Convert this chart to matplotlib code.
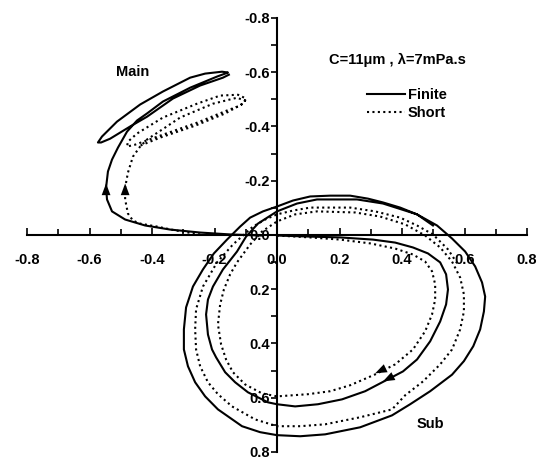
#!/usr/bin/env python

# Journal centre orbits for the main and sub bearings, finite vs short
# bearing theory.

import matplotlib
matplotlib.use('Agg')
import matplotlib.pyplot as plt
from matplotlib.ticker import MultipleLocator, FormatStrFormatter

# main bearing orbit, finite bearing theory
mainFiniteX = [-0.048, -0.150, -0.246, -0.342, -0.422, -0.486, -0.528, -0.544,
               -0.547, -0.541, -0.528, -0.509, -0.480, -0.448, -0.416, -0.365,
               -0.278, -0.192, -0.166, -0.157, -0.176, -0.230, -0.278, -0.365,
               -0.438, -0.512, -0.560, -0.573, -0.563, -0.534, -0.470, -0.416,
               -0.333, -0.246, -0.173, -0.154]
mainFiniteY = [0.002, -0.002, -0.009, -0.020, -0.035, -0.057, -0.087, -0.131,
               -0.175, -0.234, -0.278, -0.322, -0.381, -0.422, -0.448, -0.492,
               -0.543, -0.584, -0.595, -0.599, -0.602, -0.595, -0.580, -0.529,
               -0.481, -0.418, -0.363, -0.341, -0.341, -0.355, -0.400, -0.436,
               -0.503, -0.551, -0.580, -0.591]

# main bearing orbit, short bearing theory
mainShortX = [-0.246, -0.326, -0.384, -0.438, -0.461, -0.477, -0.486, -0.486,
              -0.477, -0.461, -0.438, -0.416, -0.358, -0.310, -0.205, -0.128,
              -0.102, -0.118, -0.160, -0.256, -0.365, -0.454, -0.480, -0.477,
              -0.448, -0.365, -0.256, -0.182, -0.125, -0.099, -0.109, -0.166,
              -0.262, -0.374, -0.445]
mainShortY = [-0.002, -0.017, -0.031, -0.042, -0.053, -0.079, -0.131, -0.175,
              -0.230, -0.289, -0.326, -0.352, -0.396, -0.433, -0.484, -0.506,
              -0.495, -0.477, -0.459, -0.414, -0.370, -0.333, -0.326, -0.344,
              -0.374, -0.433, -0.484, -0.514, -0.517, -0.503, -0.484, -0.448,
              -0.403, -0.359, -0.326]

# sub bearing orbit, finite bearing theory
subFiniteX = [0.000, 0.106, 0.202, 0.307, 0.378, 0.435, 0.483, 0.522, 0.541,
              0.547, 0.541, 0.522, 0.490, 0.448, 0.403, 0.355, 0.282, 0.208,
              0.131, 0.058, 0.000, -0.029, -0.093, -0.134, -0.166, -0.195,
              -0.208, -0.221, -0.227, -0.221, -0.205, -0.173, -0.128, -0.099,
              -0.061, 0.000, 0.064, 0.128, 0.256, 0.339, 0.448, 0.512, 0.560,
              0.602, 0.634, 0.656, 0.666, 0.662, 0.650, 0.628, 0.598, 0.560,
              0.490, 0.426, 0.368, 0.266, 0.154, 0.074, 0.000, -0.054, -0.112,
              -0.189, -0.230, -0.262, -0.285, -0.298, -0.298, -0.291, -0.269,
              -0.237, -0.202, -0.160, -0.118, -0.086, -0.045, 0.000, 0.051,
              0.106, 0.170, 0.234, 0.291, 0.339, 0.394, 0.448, 0.499]
subFiniteY = [0.002, 0.006, 0.009, 0.017, 0.028, 0.046, 0.068, 0.101, 0.145,
              0.201, 0.256, 0.319, 0.392, 0.459, 0.503, 0.532, 0.576, 0.606,
              0.624, 0.632, 0.624, 0.617, 0.580, 0.543, 0.506, 0.451, 0.422,
              0.367, 0.293, 0.238, 0.190, 0.127, 0.061, 0.006, -0.042, -0.087,
              -0.116, -0.131, -0.131, -0.116, -0.076, -0.035, 0.013, 0.061,
              0.116, 0.175, 0.227, 0.282, 0.348, 0.410, 0.465, 0.515, 0.576,
              0.624, 0.665, 0.709, 0.735, 0.742, 0.738, 0.727, 0.705, 0.643,
              0.595, 0.543, 0.484, 0.422, 0.348, 0.267, 0.190, 0.127, 0.068,
              0.017, -0.031, -0.064, -0.087, -0.105, -0.127, -0.142, -0.145,
              -0.145, -0.134, -0.120, -0.101, -0.076, -0.035]

# sub bearing orbit, short bearing theory
subShortX = [0.000, 0.106, 0.202, 0.298, 0.378, 0.435, 0.474, 0.496, 0.506,
             0.506, 0.496, 0.474, 0.435, 0.378, 0.314, 0.234, 0.170, 0.099,
             0.000, -0.048, -0.102, -0.141, -0.163, -0.179, -0.189, -0.182,
             -0.170, -0.150, -0.128, -0.086, -0.048, 0.000, 0.058, 0.128,
             0.250, 0.330, 0.410, 0.474, 0.522, 0.560, 0.586, 0.598, 0.598,
             0.586, 0.560, 0.522, 0.467, 0.410, 0.368, 0.266, 0.154, 0.074,
             0.000, -0.070, -0.144, -0.189, -0.221, -0.246, -0.259, -0.262,
             -0.259, -0.237, -0.214, -0.192, -0.141, -0.077, -0.038, 0.000,
             0.051, 0.106, 0.234, 0.314, 0.394, 0.448, 0.499, 0.547, 0.579]
subShortY = [0.002, 0.009, 0.017, 0.031, 0.050, 0.072, 0.098, 0.134, 0.182,
             0.238, 0.293, 0.355, 0.422, 0.477, 0.514, 0.554, 0.576, 0.587,
             0.595, 0.584, 0.551, 0.506, 0.459, 0.403, 0.330, 0.256, 0.201,
             0.145, 0.101, 0.035, -0.013, -0.050, -0.076, -0.087, -0.083,
             -0.068, -0.039, 0.002, 0.046, 0.098, 0.157, 0.219, 0.282, 0.348,
             0.422, 0.477, 0.540, 0.591, 0.643, 0.672, 0.698, 0.705, 0.705,
             0.680, 0.632, 0.587, 0.543, 0.484, 0.422, 0.348, 0.274, 0.190,
             0.145, 0.101, 0.035, -0.031, -0.057, -0.076, -0.090, -0.101,
             -0.101, -0.087, -0.064, -0.035, -0.002, 0.053, 0.109]

# direction arrows (tip, tail)
arrowTips = [(-0.547, -0.19), (-0.486, -0.19), (0.339, 0.540), (0.314, 0.510)]
arrowTails = [(-0.547, -0.13), (-0.486, -0.13), (0.410, 0.498), (0.390, 0.468)]

ticks = [-0.8, -0.6, -0.4, -0.2, 0.0, 0.2, 0.4, 0.6, 0.8]

params = {'font.family': ['Liberation Sans', 'DejaVu Sans'],
          'font.size': 10.5,
          'font.weight': 'bold',
          'axes.unicode_minus': False,
          'savefig.dpi': 100}
plt.rcParams.update(params)

fig = plt.figure(figsize=(5.4, 4.59))
ax = fig.add_axes([0.05, 0.0153, 0.926, 0.9455])

dots = (0, (1, 1.6))
ax.plot(mainFiniteX, mainFiniteY, '-', color='black', linewidth=1.5,
        label='Finite')
ax.plot(mainShortX, mainShortY, linestyle=dots, color='black', linewidth=1.5,
        label='Short')
ax.plot(subFiniteX, subFiniteY, '-', color='black', linewidth=1.5)
ax.plot(subShortX, subShortY, linestyle=dots, color='black', linewidth=1.5)

for tip, tail in zip(arrowTips, arrowTails):
    ax.annotate('', xy=tip, xytext=tail,
                arrowprops=dict(arrowstyle='-|>,head_length=0.8,head_width=0.3',
                                color='black', lw=0.01, shrinkA=0, shrinkB=0))

ax.set_xlim((-0.8, 0.8))
ax.set_ylim((0.8, -0.8))

# axes through the origin
ax.spines['left'].set_position(('data', 0))
ax.spines['bottom'].set_position(('data', 0))
ax.spines['right'].set_visible(False)
ax.spines['top'].set_visible(False)
ax.spines['left'].set_linewidth(1.5)
ax.spines['bottom'].set_linewidth(1.5)

ax.set_xticks(ticks)
ax.set_yticks(ticks)
ax.xaxis.set_minor_locator(MultipleLocator(0.1))
ax.yaxis.set_minor_locator(MultipleLocator(0.1))
ax.xaxis.set_major_formatter(FormatStrFormatter('%.1f'))
ax.yaxis.set_major_formatter(FormatStrFormatter('%.1f'))
ax.tick_params(axis='x', which='both', direction='in', width=1.2, pad=13)
ax.tick_params(axis='x', which='major', length=5)
ax.tick_params(axis='x', which='minor', length=4)
ax.tick_params(axis='y', which='both', direction='out', width=1.2, length=4,
               pad=1)

ax.text(0.384, -0.646, 'C=11\u03bcm , \u03bb=7mPa.s', ha='center', va='center')
ax.text(-0.461, -0.600, 'Main', ha='center', va='center')
ax.text(0.490, 0.698, 'Sub', ha='center', va='center')

ax.legend(loc='upper left', bbox_to_anchor=(0.665, 0.855), frameon=False,
          handlelength=2.6, handletextpad=0.2, labelspacing=0.25,
          borderpad=0)

fig.savefig('out.png')
